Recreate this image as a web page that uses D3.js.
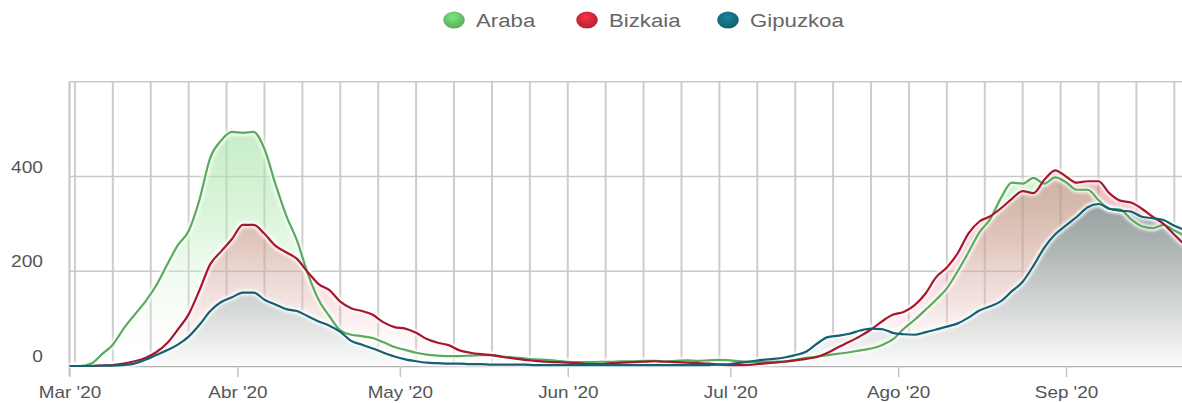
<!DOCTYPE html>
<html>
<head>
<meta charset="utf-8">
<script src="https://cdn.jsdelivr.net/npm/d3@7"></script>
<style>
body { margin: 0; background: #fff; }
svg { display: block; font-family: "Liberation Sans", Arial, sans-serif; }
</style>
</head>
<body>
<div class="content"></div>
<script>
var size = {width: 1182, height: 403};
var plotBox = {left: 69.5, right: 1182, top: 81.75, bottom: 366};

// one value every two days, starting 1 Mar 2020
var startDate = new Date(2020, 2, 1);
var stepDays = 2;
var seriesNames = ["Araba", "Bizkaia", "Gipuzkoa"];
var yTicks = [0, 200, 400];
var monthTicks = ["Mar '20", "Abr '20", "May '20", "Jun '20", "Jul '20", "Ago '20", "Sep '20"];

var araba = [0,0,5,25,45,79,108,136,170,213,
    255,285,351,440,476,494,492,494,458,385,
    318,265,195,140,105,75,66,63,59,50,
    40,34,28,24,22,21,21,22,23,23,
    20,18,16,14,13,11,9,8,8,9,
    9,10,10,11,11,10,11,12,11,12,
    13,12,10,9,8,9,10,13,17,20,
    23,26,29,33,37,44,56,78,97,118,
    140,164,200,240,282,310,355,387,385,397,
    385,398,388,372,372,350,332,330,310,295,
    291,298,286,275];
var bizkaia = [0,0,0,1,2,5,10,17,29,48,
    77,109,160,215,242,268,298,298,279,254,
    240,226,198,173,160,136,122,116,108,92,
    82,79,70,57,49,44,33,28,25,23,
    19,16,13,11,9,8,7,6,4,4,
    6,7,8,9,10,9,8,7,6,5,
    3,2,2,3,5,7,9,12,15,19,
    28,40,51,63,77,94,108,114,128,152,
    187,208,238,280,305,316,333,353,369,365,
    393,413,400,387,390,390,365,349,345,332,
    315,300,277,255];
var gipuzkoa = [0,0,0,1,1,2,5,13,23,33,
    45,62,87,116,135,145,155,155,140,130,
    120,116,105,94,85,72,53,45,37,28,
    20,14,10,7,6,5,5,4,4,3,
    3,3,3,2,2,2,2,2,2,2,
    2,2,2,2,2,2,2,2,2,2,
    3,4,7,10,13,15,18,23,30,47,
    61,64,68,75,79,78,70,67,66,71,
    77,83,90,102,117,126,137,158,178,212,
    250,278,297,315,335,342,332,328,326,315,
    312,308,296,287];

var lineColors = ["#5aab5e", "#a8172f", "#175f72"];
var dots = ["#62bd66", "#c92639", "#146a7d"];

var dates = araba.map(function(d, i) { return d3.timeDay.offset(startDate, i * stepDays); });
var series = [araba, bizkaia, gipuzkoa].map(function(vals, k) {
    return {name: seriesNames[k], color: lineColors[k],
            values: vals.map(function(v, i) { return {date: dates[i], value: v}; })};
});

var svg = d3.select('.content').append('svg')
    .attr('width', size.width)
    .attr('height', size.height);

var defs = svg.append('defs');
defs.append('clipPath').attr('id', 'clipper')
    .append('rect')
    .attr('x', plotBox.left).attr('y', plotBox.top - 10)
    .attr('width', plotBox.right - plotBox.left)
    .attr('height', plotBox.bottom - plotBox.top + 12);
defs.append('filter').attr('id', 'glow')
    .attr('x', '-5%').attr('y', '-20%').attr('width', '110%').attr('height', '140%')
    .append('feGaussianBlur').attr('stdDeviation', 1.6);

var endDate = d3.timeHour.offset(startDate, Math.round(205.4 * 24));
var xScale = d3.scaleTime()
    .domain([startDate, endDate])
    .range([plotBox.left, plotBox.right]);
var yScale = d3.scaleLinear()
    .domain([0, 600])
    .range([plotBox.bottom, plotBox.top]);

// area gradients, in chart coordinates
var fills = [
    {id: 'gA', top: 500, stops: [['#a2e3a2', 0.62], ['#b2e9b2', 0.5], ['#d6f3d6', 0.3], ['#ffffff', 0.1]]},
    {id: 'gB', top: 400, stops: [['#c8404e', 0.36], ['#d4505e', 0.3], ['#e88a94', 0.22], ['#ffffff', 0.08]]},
    {id: 'gC', top: 400, stops: [['#8c9696', 1], ['#a9b0b0', 1], ['#d2d5d5', 1], ['#fbfbfb', 1]]}
];
fills.forEach(function(f) {
    var g = defs.append('linearGradient').attr('id', f.id)
        .attr('gradientUnits', 'userSpaceOnUse')
        .attr('x1', 0).attr('x2', 0)
        .attr('y1', yScale(f.top)).attr('y2', yScale(0));
    f.stops.forEach(function(s, i) {
        g.append('stop').attr('offset', (i / (f.stops.length - 1) * 100) + '%')
            .attr('stop-color', s[0]).attr('stop-opacity', s[1]);
    });
});

// grid
var grid = svg.append('g');
grid.selectAll('line.v')
    .data(d3.timeMonday.range(startDate, d3.timeDay.offset(endDate, 1)))
    .enter().append('line')
    .attr('x1', function(d) { return xScale(d); })
    .attr('x2', function(d) { return xScale(d); })
    .attr('y1', plotBox.top).attr('y2', plotBox.bottom)
    .attr('stroke', '#cdcdcd').attr('stroke-width', 2);
grid.selectAll('line.h')
    .data([200, 400, 600])
    .enter().append('line')
    .attr('x1', plotBox.left).attr('x2', plotBox.right)
    .attr('y1', function(d) { return yScale(d); })
    .attr('y2', function(d) { return yScale(d); })
    .attr('stroke', '#c9c9c9').attr('stroke-width', 1.6);
grid.append('line')
    .attr('x1', plotBox.left).attr('x2', plotBox.left)
    .attr('y1', plotBox.top).attr('y2', plotBox.bottom + 10)
    .attr('stroke', '#c4c4c4').attr('stroke-width', 2);

// x axis
var xAxis = d3.axisBottom(xScale)
    .tickValues(d3.timeMonth.range(startDate, endDate))
    .tickFormat(function(d, i) { return monthTicks[i]; })
    .tickSize(11).tickSizeOuter(0);
var xAxisObj = svg.append('g')
    .attr('transform', 'translate(0,' + plotBox.bottom + ')')
    .call(xAxis);
xAxisObj.select('.domain').attr('stroke', '#b0b0b0').attr('stroke-width', 1.6);
xAxisObj.selectAll('.tick line').attr('stroke', '#c4c4c4').attr('stroke-width', 1.5);
xAxisObj.selectAll('.tick text')
    .attr('y', 32).attr('dy', 0)
    .attr('fill', '#555').style('font-size', '16px')
    .attr('transform', 'scale(1.18,1)');

// y labels, sitting just above their grid lines
svg.append('g').selectAll('text')
    .data(yTicks)
    .enter().append('text')
    .attr('transform', function(d) { return 'translate(43,' + (yScale(d) - 4) + ') scale(1.2,1)'; })
    .attr('text-anchor', 'end')
    .attr('fill', '#555')
    .style('font-size', '16px')
    .text(function(d) { return d; });

var main = svg.append('g').attr('clip-path', 'url(#clipper)');

var area = d3.area()
    .x(function(d) { return xScale(d.date); })
    .y0(yScale(0))
    .y1(function(d) { return yScale(d.value); })
    .curve(d3.curveMonotoneX);
var line = d3.line()
    .x(function(d) { return xScale(d.date); })
    .y(function(d) { return yScale(d.value); })
    .curve(d3.curveMonotoneX);

main.selectAll('path.area')
    .data(series)
    .enter().append('path')
    .attr('class', 'area')
    .attr('d', function(d) { return area(d.values); })
    .attr('fill', function(d, i) { return 'url(#' + fills[i].id + ')'; });

main.selectAll('path.halo')
    .data(series)
    .enter().append('path')
    .attr('class', 'halo')
    .attr('d', function(d) { return line(d.values); })
    .attr('fill', 'none')
    .attr('stroke', '#fff')
    .attr('stroke-opacity', 0.9)
    .attr('stroke-width', 6)
    .attr('filter', 'url(#glow)');

main.selectAll('path.line')
    .data(series)
    .enter().append('path')
    .attr('class', 'line')
    .attr('d', function(d) { return line(d.values); })
    .attr('fill', 'none')
    .attr('stroke', function(d) { return d.color; })
    .attr('stroke-width', 2.2)
    .attr('stroke-linejoin', 'round');

// legend
var legendX = [454, 587, 728];
dots.forEach(function(c, i) {
    var rg = defs.append('radialGradient').attr('id', 'dot' + i)
        .attr('cx', '45%').attr('cy', '35%').attr('r', '65%');
    rg.append('stop').attr('offset', '0%').attr('stop-color', d3.color(c).brighter(0.6));
    rg.append('stop').attr('offset', '100%').attr('stop-color', d3.color(c).darker(0.3));
});
var legend = svg.append('g').selectAll('g')
    .data(series)
    .enter().append('g')
    .attr('transform', function(d, i) { return 'translate(' + legendX[i] + ',20)'; });
legend.append('ellipse')
    .attr('rx', 10.8).attr('ry', 8.6)
    .attr('fill', function(d, i) { return 'url(#dot' + i + ')'; });
legend.append('text')
    .attr('transform', 'translate(22,7) scale(1.17,1)')
    .attr('fill', '#666')
    .style('font-size', '19px')
    .text(function(d) { return d.name; });
</script>
</body>
</html>
